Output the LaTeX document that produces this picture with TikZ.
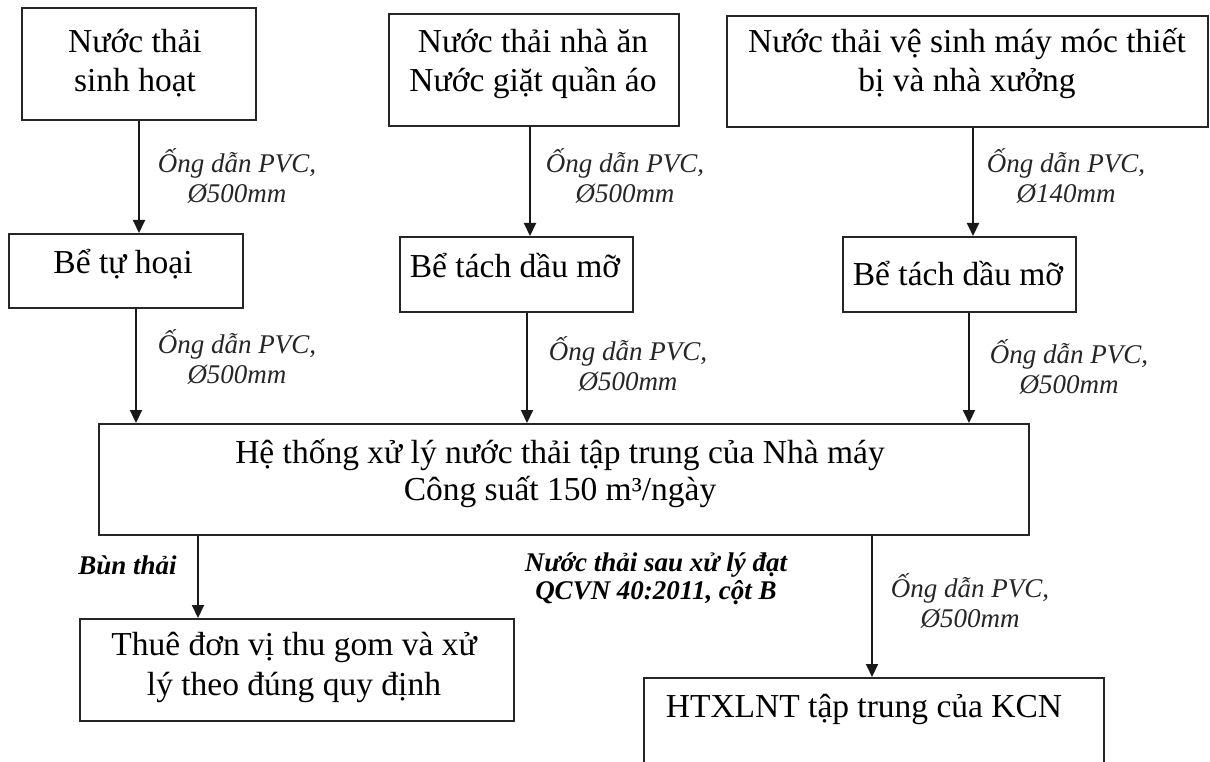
\documentclass[tikz,border=0pt]{standalone}
\usepackage{fontspec}
\setmainfont{Liberation Serif}
\usetikzlibrary{arrows.meta,calc}

\tikzset{
  box/.style={draw=black!85, line width=2pt, rectangle, inner sep=0pt, anchor=north west},
  boxtext/.style={font=\fontsize{33.5}{39}\selectfont, align=center, inner sep=0pt, anchor=base},
  pipe/.style={font=\fontsize{27}{30}\selectfont\itshape, align=center, inner sep=0pt, anchor=base, text=black!85},
  note/.style={font=\fontsize{27}{28}\selectfont\bfseries\itshape, align=center, inner sep=0pt, anchor=base},
  flow/.style={draw=black!90, line width=2pt, -{Triangle[length=13pt,width=12pt]}},
}

\begin{document}
\begin{tikzpicture}[x=1pt, y=-1pt]
  \useasboundingbox (0,0) rectangle (1210,762);
  \fill[white] (0,0) rectangle (1210,762);
  \clip (0,0) rectangle (1210,762);

  % sources (text nodes are placed by the baseline of their last line)
  \node[box, minimum width=234pt, minimum height=112pt] (src1) at (21,7) {};
  \node[box, minimum width=290pt, minimum height=112pt] (src2) at (388,13) {};
  \node[box, minimum width=481pt, minimum height=111pt] (src3) at (726,15) {};
  \node[boxtext] (src1t) at (135,92) {Nước thải\\sinh hoạt};
  \node[boxtext] (src2t) at (533,92) {Nước thải nhà ăn\\Nước giặt quần áo};
  \node[boxtext] (src3t) at (967,92) {Nước thải vệ sinh máy móc thiết\\bị và nhà xưởng};

  % pre-treatment tanks
  \node[box, minimum width=234pt, minimum height=74pt] (tank1) at (8,233) {};
  \node[box, minimum width=233pt, minimum height=75pt] (tank2) at (399,236) {};
  \node[box, minimum width=233pt, minimum height=75pt] (tank3) at (842,236) {};
  \node[boxtext] (tank1t) at (123,273) {Bể tự hoại};
  \node[boxtext] (tank2t) at (515,277) {Bể tách dầu mỡ};
  \node[boxtext] (tank3t) at (958,285) {Bể tách dầu mỡ};

  % central treatment plant
  \node[box, minimum width=930pt, minimum height=111pt] (main) at (98,423) {};
  \node[boxtext, font=\fontsize{33.5}{37}\selectfont] (maint) at (560,500)
    {Hệ thống xử lý nước thải tập trung của Nhà máy\\Công suất 150 m³/ngày};

  % outputs
  \node[box, minimum width=434pt, minimum height=102pt] (sludge) at (79,618) {};
  \node[boxtext, font=\fontsize{33.5}{40}\selectfont] (sludget) at (294,695)
    {Thuê đơn vị thu gom và xử\\lý theo đúng quy định};
  \node[box, minimum width=460pt, minimum height=140pt] (kcn) at (643,677) {};
  \node[boxtext] (kcnt) at (864,717) {HTXLNT tập trung của KCN};

  % pipes
  \draw[flow] (src1.south) -- (src1.south |- tank1.north);
  \draw[flow] ([xshift=10pt]tank1.south) -- ([xshift=10pt]tank1.south |- main.north);
  \draw[flow] ([xshift=-4pt]src2.south) -- ([xshift=-4pt]src2.south |- tank2.north);
  \draw[flow] ([xshift=10.5pt]tank2.south) -- ([xshift=10.5pt]tank2.south |- main.north);
  \draw[flow] ([xshift=5.5pt]src3.south) -- ([xshift=5.5pt]src3.south |- tank3.north);
  \draw[flow] ([xshift=9.5pt]tank3.south) -- ([xshift=9.5pt]tank3.south |- main.north);
  \draw[flow] ([xshift=100pt]main.south west) -- ([xshift=100pt]main.south west |- sludge.north);
  \draw[flow] ([xshift=-158pt]main.south east) -- ([xshift=-158pt]main.south east |- kcn.north);

  % pipe labels
  \node[pipe] (p1) at (237,203) {Ống dẫn PVC,\\Ø500mm};
  \node[pipe] (p2) at (237,383) {Ống dẫn PVC,\\Ø500mm};
  \node[pipe] (p3) at (625,203) {Ống dẫn PVC,\\Ø500mm};
  \node[pipe] (p4) at (628,390) {Ống dẫn PVC,\\Ø500mm};
  \node[pipe] (p5) at (1066,203) {Ống dẫn PVC,\\Ø140mm};
  \node[pipe] (p6) at (1069,393) {Ống dẫn PVC,\\Ø500mm};
  \node[pipe] (p7) at (970,627) {Ống dẫn PVC,\\Ø500mm};

  % stream notes
  \node[note] (n1) at (127.5,574) {Bùn thải};
  \node[note] (n2) at (656,599) {Nước thải sau xử lý đạt\\QCVN 40:2011, cột B};
\end{tikzpicture}
\end{document}
